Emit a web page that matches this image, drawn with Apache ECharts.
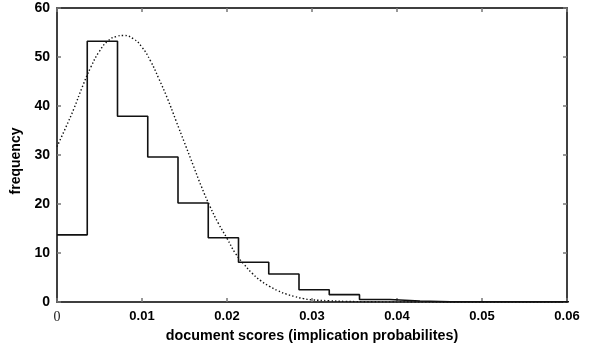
<!DOCTYPE html>
<html>
<head>
<meta charset="utf-8">
<script src="https://cdn.jsdelivr.net/npm/echarts@6/dist/echarts.min.js"></script>
<style>
  html, body { margin: 0; padding: 0; background: #fff; }
  #chart { width: 604px; height: 349px; }
</style>
</head>
<body>
<div id="chart"></div>
<script>
  // histogram: 17 equal bins from 0 to 0.0605
  var binStart = 0
  var binWidth = 0.0605 / 17
  var binHeights = [13.7, 53.2, 37.9, 29.6, 20.2, 13.1, 8.1, 5.7, 2.5, 1.5, 0.5, 0.2, 0.06, 0.05, 0.04, 0.04, 0.05]

  // fitted density curve
  var curveX = [0, 0.001, 0.002, 0.003, 0.004, 0.005, 0.006, 0.007, 0.0078, 0.009, 0.010, 0.011, 0.012,
    0.013, 0.014, 0.015, 0.016, 0.017, 0.018, 0.019, 0.020, 0.021, 0.022, 0.023, 0.024, 0.025,
    0.026, 0.027, 0.028, 0.029, 0.030, 0.032, 0.034, 0.037, 0.040, 0.050, 0.060]
  var curveY = [31.7, 35.5, 39.5, 44, 48, 51.2, 53.3, 54.2, 54.4, 53.7, 52, 49.2, 45.5,
    41.5, 37, 32.5, 28, 23.5, 19.5, 16, 13, 9.9, 7.7, 5.8, 4.3, 3.2,
    2.3, 1.6, 1.1, 0.7, 0.45, 0.25, 0.12, 0.05, 0.02, 0, 0]

  var xTicks = [0, 0.01, 0.02, 0.03, 0.04, 0.05, 0.06]
  var yTicks = [0, 10, 20, 30, 40, 50, 60]

  var histData = []
  for (var i = 0; i < binHeights.length; i++) {
    histData.push([binStart + i * binWidth, binHeights[i]])
  }
  histData.push([binStart + binHeights.length * binWidth, binHeights[binHeights.length - 1]])

  var curveData = curveX.map(function (x, i) { return [x, curveY[i]] })

  var font = 'Liberation Sans, Arial, Helvetica, sans-serif'
  var tickStyle = { show: true, inside: true, length: 4, lineStyle: { color: '#777', width: 1.5 } }
  var lineStyle = { color: '#000', width: 1.5 }
  var axisLine = { show: true, onZero: false, lineStyle: lineStyle }

  var chart = echarts.init(document.getElementById('chart'), null, { renderer: 'canvas' })
  chart.setOption({
    animation: false,
    backgroundColor: '#fff',
    grid: { left: 57, right: 37, top: 8, bottom: 47 },
    xAxis: [{
      type: 'value', position: 'bottom',
      min: xTicks[0], max: xTicks[xTicks.length - 1], interval: 0.01,
      name: 'document scores (implication probabilites)',
      nameLocation: 'middle', nameGap: 25,
      nameTextStyle: { fontFamily: font, fontWeight: 'bold', fontSize: 14.3, color: '#000' },
      axisLine: axisLine,
      axisTick: tickStyle,
      splitLine: { show: false },
      axisLabel: {
        margin: 8, color: '#000', fontFamily: font, fontWeight: 'bold', fontSize: 13,
        formatter: function (v) { return v === 0 ? '{s|0}' : v.toFixed(2) },
        rich: { s: { fontFamily: 'Liberation Serif, Times New Roman, serif', fontWeight: 'normal', fontSize: 14, color: '#222' } }
      }
    }, {
      type: 'value', position: 'top',
      min: xTicks[0], max: xTicks[xTicks.length - 1], interval: 0.01,
      axisLine: axisLine,
      axisTick: tickStyle,
      axisLabel: { show: false },
      splitLine: { show: false }
    }],
    yAxis: [{
      type: 'value', position: 'left',
      min: yTicks[0], max: yTicks[yTicks.length - 1], interval: 10,
      name: 'frequency', nameLocation: 'middle', nameGap: 31,
      nameTextStyle: { fontFamily: font, fontWeight: 'bold', fontSize: 14, color: '#000', padding: [0, 12, 0, 0] },
      axisLine: axisLine,
      axisTick: tickStyle,
      splitLine: { show: false },
      axisLabel: { margin: 7, color: '#000', fontFamily: font, fontWeight: 'bold', fontSize: 14 }
    }, {
      type: 'value', position: 'right',
      min: yTicks[0], max: yTicks[yTicks.length - 1], interval: 10,
      axisLine: axisLine,
      axisTick: tickStyle,
      axisLabel: { show: false },
      splitLine: { show: false }
    }],
    series: [{
      type: 'line',
      data: curveData,
      smooth: true,
      showSymbol: false,
      clip: true,
      lineStyle: { color: '#111', width: 1.4, type: [1.4, 2.2] }
    }, {
      type: 'line',
      data: histData,
      step: 'end',
      showSymbol: false,
      clip: false,
      lineStyle: { color: '#111', width: 1.6 }
    }]
  })
</script>
</body>
</html>
